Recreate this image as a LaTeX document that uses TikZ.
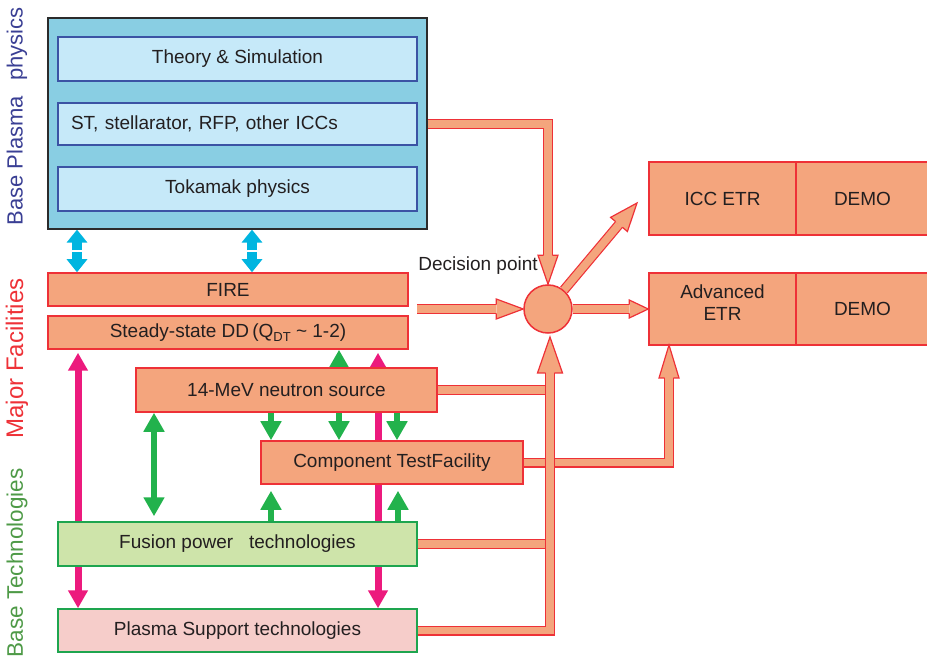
\documentclass[tikz,border=0pt]{standalone}
\usepackage{fontspec}
\setmainfont{Liberation Sans}
\usetikzlibrary{arrows.meta,calc}
\pgfdeclarelayer{bg}
\pgfsetlayers{bg,main}

\definecolor{salm}{HTML}{F4A57D}
\definecolor{redl}{HTML}{EE3137}
\definecolor{txt}{HTML}{231F20}
\definecolor{outfill}{HTML}{89CEE3}
\definecolor{outdraw}{HTML}{2B2B2B}
\definecolor{infill}{HTML}{C6E9F9}
\definecolor{indraw}{HTML}{3B53A4}
\definecolor{fpfill}{HTML}{CEE4AA}
\definecolor{psfill}{HTML}{F6CDCA}
\definecolor{gborder}{HTML}{1EA54F}
\definecolor{garrow}{HTML}{22B24C}
\definecolor{parrow}{HTML}{EC1A7D}
\definecolor{carrow}{HTML}{00B5E0}
\definecolor{labblue}{HTML}{3A3F94}
\definecolor{labred}{HTML}{EE3137}
\definecolor{labgreen}{HTML}{4E9A47}

\tikzset{
  mainfont/.style={font=\fontsize{19}{22}\selectfont, text=txt},
  box/.style={mainfont, draw=redl, fill=salm, line width=1.5pt, inner sep=0pt},
  innerbox/.style={mainfont, draw=indraw, fill=infill, line width=1.5pt, inner sep=0pt,
    minimum width=359pt, minimum height=44pt},
  greenbox/.style={mainfont, draw=gborder, line width=1.5pt, inner sep=0pt},
  sidelab/.style={rotate=90, inner sep=0pt},
  fatline/.style={draw=redl, line width=1.2pt, double=salm, double distance=7.6pt},
  greenarr/.style={draw=garrow, line width=6.5pt, arrows={-Triangle[width=20pt,length=19pt]}},
  greendbl/.style={draw=garrow, line width=6.5pt, arrows={Triangle[width=20pt,length=19pt]-Triangle[width=20pt,length=19pt]}},
  pinkdbl/.style={draw=parrow, line width=7pt, arrows={Triangle[width=19pt,length=18pt]-Triangle[width=19pt,length=18pt]}},
  cyanarr/.style={draw=carrow, line width=10pt, arrows={-Triangle[width=20pt,length=13pt]}},
}

\newcommand\fathead[4]{%
  \path (#1) coordinate (faS) (#2) coordinate (faT);
  \path ($(faT)!#3!(faS)$) coordinate (faB);
  \draw[fatline] (faS) -- (faB);
  \fill[salm] ($(faB)!#4!90:(faT)$) -- (faT) -- ($(faB)!#4!-90:(faT)$) -- cycle;
  \draw[redl, line width=1.2pt, line join=miter] ($(faB)!4.4pt!90:(faT)$) -- ($(faB)!#4!90:(faT)$) -- (faT) -- ($(faB)!#4!-90:(faT)$) -- ($(faB)!4.4pt!-90:(faT)$);
}

\begin{document}
\begin{tikzpicture}[x=1pt,y=-1pt]
\useasboundingbox (0,0) rectangle (927,660);

% side labels
\node[sidelab, font=\fontsize{22}{22}\selectfont, text=labblue] (labA) at (17,116.5) {Base Plasma\hspace{15pt}physics};
\node[sidelab, font=\fontsize{24}{24}\selectfont, text=labred] (labB) at (17,358.5) {Major Facilities};
\node[sidelab, font=\fontsize{22.5}{22.5}\selectfont, text=labgreen] (labC) at (17,563) {Base Technologies};

% base plasma physics block
\node[draw=outdraw, fill=outfill, line width=1.2pt, minimum width=379pt, minimum height=211pt, inner sep=0pt] (base) at (237.5,123.5) {};
\node[innerbox] (theory) at (237.5,59) {Theory \& Simulation};
\node[innerbox, minimum height=42pt, text width=333pt, align=left, inner xsep=13pt] (st) at (237.5,124) {ST, stellarator, RFP, other ICCs};
\node[innerbox] (tok) at (237.5,189) {Tokamak physics};

% major facilities
\node[box, minimum width=360pt, minimum height=33pt] (fire) at (228,289.5) {FIRE};
\node[box, minimum width=360pt, minimum height=33pt] (ss) at (228,332.5) {Steady-state DD\,(Q\raisebox{-0.25em}{\fontsize{13}{13}\selectfont DT} \textasciitilde\ 1-2)};
\node[box, minimum width=301pt, minimum height=44pt] (mev) at (286.5,390) {14-MeV neutron source};
\node[box, minimum width=262pt, minimum height=43pt] (ctf) at (392,462.5) {Component TestFacility};

% base technologies
\node[greenbox, fill=fpfill, minimum width=359pt, minimum height=44pt] (fpt) at (237.5,544) {Fusion power\ \ \ technologies};
\node[greenbox, fill=psfill, minimum width=359pt, minimum height=43pt] (pst) at (237.5,630.5) {Plasma Support technologies};

% decision point and targets
\node[circle, draw=redl, fill=salm, line width=1.5pt, minimum size=48pt, inner sep=0pt] (dp) at (548,309) {};
\node[mainfont, inner sep=0pt] (dplab) at (478,266) {Decision point};
\node[box, minimum width=147pt, minimum height=73pt] (iccL) at (722.5,198.5) {ICC ETR};
\node[box, minimum width=133pt, minimum height=73pt] (iccR) at (862.5,198.5) {DEMO};
\node[box, minimum width=147pt, minimum height=72pt] (advL) at (722.5,309) {};
\node[mainfont, align=center, inner sep=0pt] (advtxt) at (722.5,303) {Advanced\\ETR};
\node[box, minimum width=133pt, minimum height=72pt] (advR) at (862.5,309) {DEMO};

% helper coordinates
\coordinate (cy1) at (77,250.5);
\coordinate (cy1b) at (77,252);
\coordinate (cy2) at (252,250.5);
\coordinate (cy2b) at (252,252);
\coordinate (fireout) at (417,309);
\coordinate (icctip) at (637,203);
\coordinate (advtip) at (669,345);
\coordinate (bustip) at (550,337);

% thin arrows behind boxes
\begin{pgfonlayer}{bg}
  \draw[cyanarr] (cy1) -- (cy1 |- base.south);
  \draw[cyanarr] (cy1b) -- (cy1b |- fire.north);
  \draw[cyanarr] (cy2) -- (cy2 |- base.south);
  \draw[cyanarr] (cy2b) -- (cy2b |- fire.north);

  \draw[pinkdbl, shorten <=3pt] (78,0 |- ss.south) -- (78,0 |- pst.north);
  \draw[pinkdbl, shorten <=3pt] (378,0 |- ss.south) -- (378,0 |- pst.north);

  \draw[greendbl] (339,0 |- ss.south) -- (339,0 |- ctf.north);
  \draw[greenarr] (271,0 |- mev.south) -- (271,0 |- ctf.north);
  \draw[greenarr] (397,0 |- mev.south) -- (397,0 |- ctf.north);
  \draw[greendbl, shorten >=5pt] (154,0 |- mev.south) -- (154,0 |- fpt.north);
  \draw[greenarr, shorten >=6pt] (271,0 |- fpt.north) -- (271,0 |- ctf.south);
  \draw[greenarr, shorten >=6pt] (398,0 |- fpt.north) -- (398,0 |- ctf.south);
\end{pgfonlayer}

% fat salmon connectors
\draw[fatline] (base.east |- st.east) -| (548,200);
\fathead{548,195}{dp.north}{29pt}{10pt}
\fathead{fireout}{dp.west}{27pt}{10pt}
\fathead{dp.east}{advL.west}{19pt}{9pt}
\fathead{dp.50}{icctip}{28pt}{11pt}

\draw[fatline] (mev.east) -- (mev.east -| bustip);
\draw[fatline] (fpt.east) -- (fpt.east -| bustip);
\draw[fatline] (ctf.east) -| (669,400);
\fathead{669,405}{advtip}{33pt}{10pt}
\draw[fatline] (pst.east) -| (550,400);
\fathead{550,405}{bustip}{36pt}{12.5pt}
\end{tikzpicture}
\end{document}
